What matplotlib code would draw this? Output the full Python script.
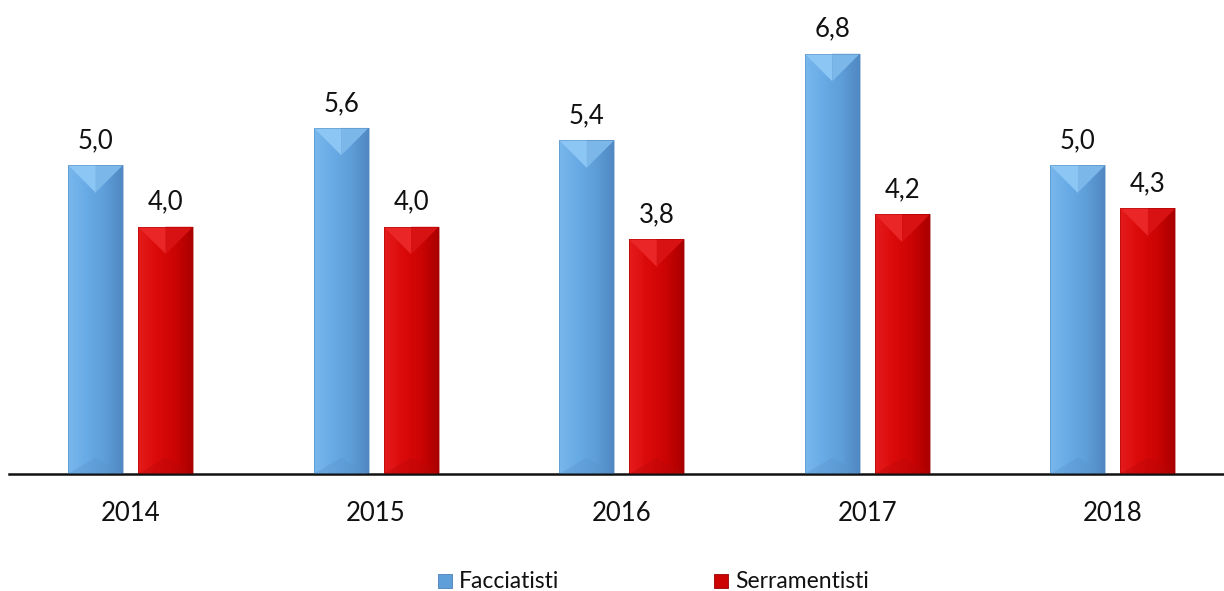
import numpy as np
import matplotlib
matplotlib.use("Agg")
import matplotlib.pyplot as plt
from matplotlib.patches import Polygon, Rectangle
from matplotlib.colors import LinearSegmentedColormap

years = ["2014", "2015", "2016", "2017", "2018"]
facciatisti = [5.0, 5.6, 5.4, 6.8, 5.0]
serramentisti = [4.0, 4.0, 3.8, 4.2, 4.3]
series_names = ["Facciatisti", "Serramentisti"]

plt.rcParams['font.family'] = ['Lato', 'DejaVu Sans']

W, H = 1224, 591
fig = plt.figure(figsize=(W / 100, H / 100), dpi=100)

ax_left_px, ax_right_px = 9, 1224
base_px, top_px = 474, 0
ax = fig.add_axes([ax_left_px / W, (H - base_px) / H,
                   (ax_right_px - ax_left_px) / W, (base_px - top_px) / H])

spacing_px = 245.6
c0_px = 130.5
xmin = (ax_left_px - c0_px) / spacing_px
xmax = (ax_right_px - c0_px) / spacing_px
px_per_unit_y = 61.8
ymax = (base_px - top_px) / px_per_unit_y
ax.set_xlim(xmin, xmax)
ax.set_ylim(0, ymax)

bar_w = 55 / spacing_px
offset = 35 / spacing_px
bevel = (55 / 2) / px_per_unit_y  # 45 degree bevel in data units

styles = {
    "blue": dict(body=["#78b7ec", "#69abe6", "#5e9ed9", "#5088c2"],
                 top="#8cc6f5", top_r="#7cb7ea", bottom="#5892cb", edge="#4a80b8"),
    "red": dict(body=["#e41c1c", "#dc0a0a", "#cc0404", "#aa0000"],
                top="#ea2626", top_r="#d81212", bottom="#b80808", edge="#9a0000"),
}

FS = 18.5


def draw_bar(x, h, st):
    x0, x1 = x - bar_w / 2, x + bar_w / 2
    xc = x
    cmap = LinearSegmentedColormap.from_list("g", st["body"])
    grad = np.linspace(0, 1, 64).reshape(1, -1)
    im = ax.imshow(grad, extent=[x0, x1, 0, h], aspect="auto", cmap=cmap,
                   zorder=2, interpolation="bilinear")
    rect = Rectangle((x0, 0), bar_w, h, transform=ax.transData)
    im.set_clip_path(rect)
    bv = min(bevel, h / 2)
    ax.add_patch(Polygon([[x0, h], [xc, h], [xc, h - bv]], closed=True,
                         facecolor=st["top"], edgecolor="none", zorder=3))
    ax.add_patch(Polygon([[xc, h], [x1, h], [xc, h - bv]], closed=True,
                         facecolor=st["top_r"], edgecolor="none", zorder=3))
    ax.add_patch(Polygon([[x0, 0], [x1, 0], [xc, bv * 0.6]], closed=True,
                         facecolor=st["bottom"], edgecolor="none", alpha=0.35, zorder=3))
    ax.add_patch(Rectangle((x0, 0), bar_w, h, facecolor="none",
                           edgecolor=st["edge"], linewidth=0.6, alpha=0.5, zorder=4))


def fmt(v):
    return f"{v:.1f}".replace(".", ",")


xs = np.arange(len(years))
gap = 17 / px_per_unit_y
for i, x in enumerate(xs):
    draw_bar(x - offset, facciatisti[i], styles["blue"])
    draw_bar(x + offset, serramentisti[i], styles["red"])
    ax.text(x - offset, facciatisti[i] + gap, fmt(facciatisti[i]),
            ha="center", va="baseline", fontsize=FS, color="#111111")
    ax.text(x + offset, serramentisti[i] + gap, fmt(serramentisti[i]),
            ha="center", va="baseline", fontsize=FS, color="#111111")
    ax.text(x, -(521 - base_px) / px_per_unit_y, years[i], ha="center",
            va="baseline", fontsize=FS, color="#111111", clip_on=False)

for s in ["top", "right", "left"]:
    ax.spines[s].set_visible(False)
ax.spines["bottom"].set_linewidth(1.8)
ax.spines["bottom"].set_color("#111111")
ax.set_yticks([])
ax.set_xticks([])

# legend
leg_base = 588
items = [(series_names[0], styles["blue"], 438), (series_names[1], styles["red"], 714)]
for name, st, xpx in items:
    sq = 14
    fig.patches.append(Rectangle((xpx / W, (H - leg_base) / H), sq / W, sq / H,
                                 transform=fig.transFigure, facecolor=st["body"][2],
                                 edgecolor=st["edge"], linewidth=0.6))
    fig.text((xpx + sq + 7) / W, (H - leg_base) / H, name, ha="left", va="baseline",
             fontsize=16.5, color="#111111")

fig.savefig("out.png", dpi=100)
